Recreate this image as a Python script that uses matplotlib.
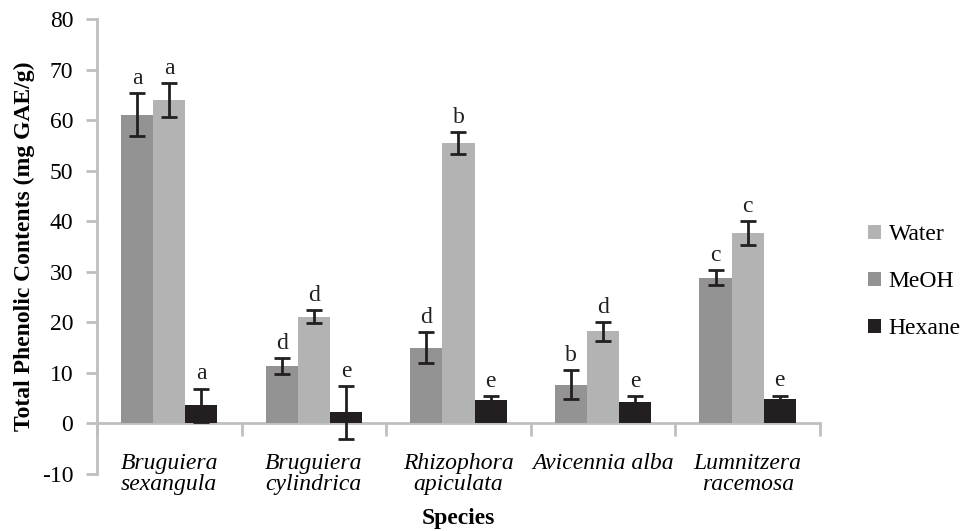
import numpy as np
import matplotlib
matplotlib.use("Agg")
import matplotlib.pyplot as plt

# ------------------------
# Data
# ------------------------
species = ["Bruguiera\nsexangula", "Bruguiera\ncylindrica", "Rhizophora\napiculata",
           "Avicennia alba", "Lumnitzera\nracemosa"]
meoh = [61.1, 11.3, 15.0, 7.7, 28.8]
meoh_err = [4.3, 1.6, 3.0, 2.9, 1.5]
water = [64.0, 21.1, 55.5, 18.2, 37.7]
water_err = [3.3, 1.3, 2.2, 1.8, 2.4]
hexane = [3.6, 2.2, 4.7, 4.3, 4.9]
hexane_err = [3.3, 5.2, 0.7, 1.1, 0.6]
meoh_sig = ["a", "d", "d", "b", "c"]
water_sig = ["a", "d", "b", "d", "c"]
hexane_sig = ["a", "e", "e", "e", "e"]

plt.rcParams['font.family'] = ['Liberation Serif', 'DejaVu Serif']
plt.rcParams['axes.unicode_minus'] = False
fs = 17
axis_grey = '#bfbfbf'
dark = '#231f20'

fig = plt.figure(figsize=(9.63, 5.31), dpi=100)
ax = fig.add_axes([0.1007, 0.1073, 0.7508, 0.8569])

x = np.arange(len(species))
w = 1 / 4.5
series = [
    (meoh, meoh_err, meoh_sig, '#939393', 'MeOH', -w),
    (water, water_err, water_sig, '#b3b3b3', 'Water', 0),
    (hexane, hexane_err, hexane_sig, dark, 'Hexane', w),
]
handles = {}
for vals, errs, sig, col, name, off in series:
    b = ax.bar(x + off, vals, w, color=col, label=name, zorder=2)
    handles[name] = b
    ax.errorbar(x + off, vals, yerr=errs, fmt='none', ecolor=dark,
                elinewidth=2, capsize=5.5, capthick=2, zorder=3)
    for xi, v, e, s in zip(x + off, vals, errs, sig):
        ax.annotate(s, (xi, v + e), xytext=(0, 3), textcoords='offset points',
                    ha='center', va='bottom', fontsize=fs, color=dark)

ax.set_xlim(-0.5, len(species) - 0.5)
ax.set_ylim(-10, 80)
ax.set_yticks(np.arange(-10, 81, 10))

# spines
for s in ['top', 'right']:
    ax.spines[s].set_visible(False)
ax.spines['left'].set_color(axis_grey)
ax.spines['left'].set_linewidth(2)
ax.spines['bottom'].set_position(('data', 0))
ax.spines['bottom'].set_color(axis_grey)
ax.spines['bottom'].set_linewidth(2)
ax.spines['bottom'].set_zorder(1)

ax.tick_params(axis='y', direction='out', length=8, width=2, color=axis_grey,
               labelsize=fs, pad=9)
ax.set_xticks(x)
ax.set_xticklabels(species, fontstyle='italic', fontsize=fs, linespacing=1.05)
ax.set_xticks(np.arange(-0.5, len(species), 1), minor=True)
ax.tick_params(axis='x', which='major', length=0, pad=21)
ax.tick_params(axis='x', which='minor', direction='out', length=9, width=2,
               color=axis_grey)

ax.set_ylabel('Total Phenolic Contents (mg GAE/g)', fontsize=fs,
              fontweight='bold', labelpad=5)
fig.text(0.4755, 0.024, 'Species', ha='center', va='center', fontsize=fs,
         fontweight='bold')

order = ['Water', 'MeOH', 'Hexane']
fig.legend([handles[n] for n in order], order, loc='upper left',
           bbox_to_anchor=(0.892, 0.595), frameon=False, fontsize=fs,
           handlelength=0.55, handleheight=0.55, handletextpad=0.3,
           labelspacing=1.1, borderaxespad=0)

fig.savefig("out.png", dpi=100)
